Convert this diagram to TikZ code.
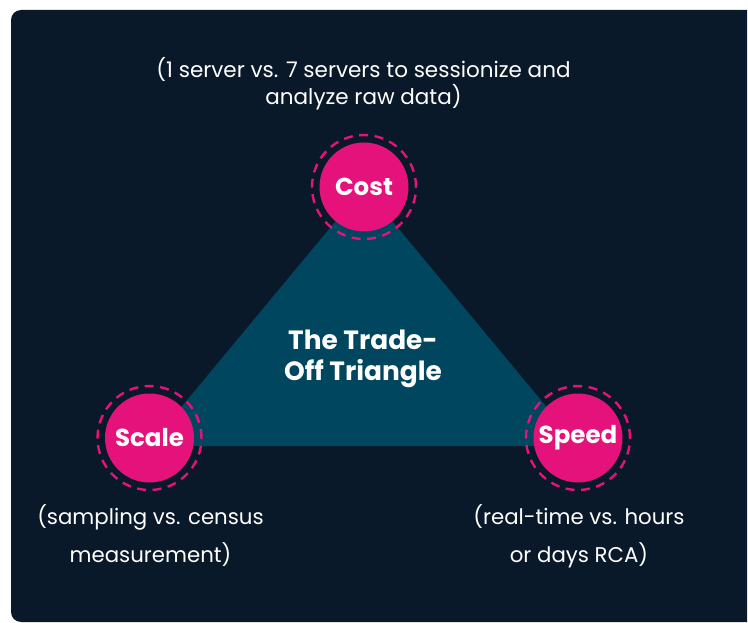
\documentclass[tikz,border=0pt]{standalone}
\usepackage{fontspec}
\setmainfont{Poppins}
\definecolor{bgnavy}{HTML}{0A1929}
\definecolor{tealtri}{HTML}{01465F}
\definecolor{hotpink}{HTML}{E5127C}
\begin{document}
\begin{tikzpicture}[x=1pt,y=-1pt,
  pinkcirc/.style={circle,fill=hotpink,minimum size=89pt,inner sep=0pt,text=white,font=\bfseries\fontsize{24.5}{28}\selectfont},
  ringnode/.style={circle,draw=hotpink,line width=2.4pt,dash pattern=on 9pt off 6.5pt,minimum size=104pt,inner sep=0pt},
  notetext/.style={text=white,align=center,inner sep=0pt,anchor=base},
  titletext/.style={text=white,align=center,inner sep=0pt,anchor=base,font=\bfseries\fontsize{26.4}{31}\selectfont}]
\useasboundingbox (0,0) rectangle (748,623);
\fill[white] (0,0) rectangle (748,623);
\fill[bgnavy] (747,10) [rounded corners=10pt] -- (11,10) -- (11,622) [sharp corners] -- (747,622) -- cycle;
\coordinate (apex) at (364,187);
\coordinate (bl) at (149,446);
\coordinate (br) at (579,446);
\fill[tealtri] (apex) -- (bl) -- (br) -- cycle;
\node[titletext] (title) at (363,380) {The Trade-\\Off Triangle};
\node[ringnode] (costring) at (364,187) {};
\node[ringnode] (scalering) at (149.5,438) {};
\node[ringnode] (speedring) at (578,438) {};
\node[pinkcirc] (cost) at (364,187) {Cost};
\node[pinkcirc] (scale) at (149.5,438) {Scale};
\node[pinkcirc] (speed) at (578,438) {Speed};
\node[notetext,font=\fontsize{21.5}{27}\selectfont] (costnote) at (363.5,105) {(1 server vs. 7 servers to sessionize and\\analyze raw data)};
\node[notetext,font=\fontsize{21.3}{38}\selectfont] (scalenote) at (150.5,562) {(sampling vs. census\\measurement)};
\node[notetext,font=\fontsize{21.3}{38}\selectfont] (speednote) at (579,562) {(real-time vs. hours\\or days RCA)};
\end{tikzpicture}
\end{document}
